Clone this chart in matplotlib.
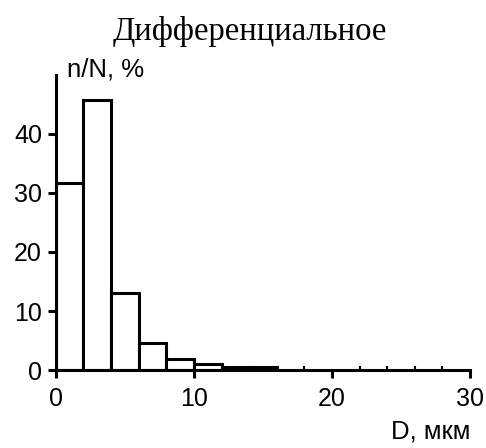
import matplotlib.pyplot as plt
from matplotlib.ticker import MultipleLocator

# histogram bins (D, um) and fraction n/N (%)
bin_left = [0, 2, 4, 6, 8, 10, 12, 14]
bin_width = 2
values = [31.6, 45.8, 13.1, 4.6, 1.9, 1.0, 0.5, 0.5]
x_ticks = [0, 10, 20, 30]
y_ticks = [0, 10, 20, 30, 40]

fig = plt.figure(figsize=(4.86, 4.48), dpi=100)
ax = fig.add_axes([0.115, 0.174, 0.852, 0.659])

ax.bar(bin_left, values, width=bin_width, align='edge',
       facecolor='white', edgecolor='black', linewidth=2.2)

ax.set_xlim(0, 30)
ax.set_ylim(0, 50)
ax.set_xticks(x_ticks)
ax.set_yticks(y_ticks)
ax.xaxis.set_minor_locator(MultipleLocator(2))

for side in ['top', 'right']:
    ax.spines[side].set_visible(False)
for side in ['left', 'bottom']:
    ax.spines[side].set_linewidth(2.2)

ax.tick_params(axis='both', which='major', direction='out', length=6, width=2.2,
               labelsize=18)
ax.tick_params(axis='x', which='major', pad=6)
ax.tick_params(axis='y', which='major', pad=4)
ax.tick_params(axis='x', which='minor', direction='in', length=3, width=1.5)
for lab in ax.get_xticklabels() + ax.get_yticklabels():
    lab.set_family('Liberation Sans')

fig.text(0.138, 0.830, 'n/N, %', fontsize=18.5, family='Liberation Sans', ha='left', va='baseline')
fig.text(0.967, 0.022, 'D, мкм', fontsize=18.5, family='Liberation Sans', ha='right', va='baseline')
fig.text(0.513, 0.911, 'Дифференциальное', fontsize=23.5, family='Liberation Serif',
         ha='center', va='baseline')

fig.savefig('out.png', dpi=100)
